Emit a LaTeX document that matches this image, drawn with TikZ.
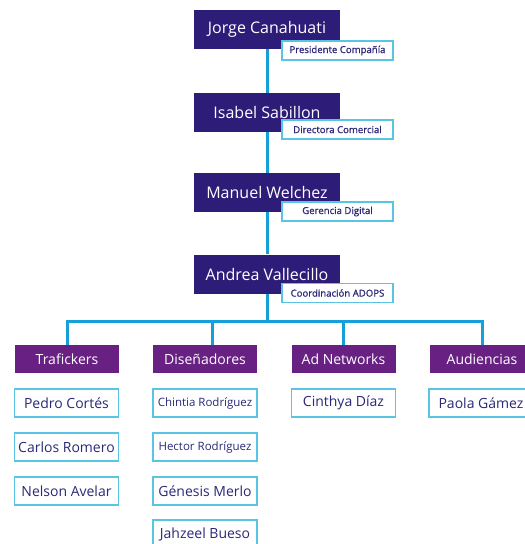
\documentclass[tikz,border=0pt]{standalone}
\usepackage{fontspec}
\setmainfont{Open Sans}
\newfontfamily\rolefont[FakeBold=0.8]{Open Sans}
\definecolor{headblue}{RGB}{46,29,120}
\definecolor{teampurple}{RGB}{104,33,130}
\definecolor{linkblue}{RGB}{22,160,218}
\definecolor{boxcyan}{RGB}{90,196,228}
\definecolor{navytext}{RGB}{43,40,120}
\tikzset{
  head/.style={fill=headblue,text=white,minimum width=146pt,minimum height=39pt,inner sep=0pt,font=\fontsize{16}{19}\selectfont},
  role/.style={draw=boxcyan,line width=1.2pt,fill=white,text=navytext,minimum width=111pt,minimum height=19pt,inner sep=0pt,font=\rolefont\fontsize{9.6}{11}\selectfont},
  team/.style={fill=teampurple,text=white,minimum width=104pt,minimum height=28pt,inner sep=0pt,font=\fontsize{14}{17}\selectfont},
  member/.style={draw=boxcyan,line width=1.2pt,fill=white,text=navytext,minimum width=104pt,minimum height=28pt,inner sep=0pt,font=\fontsize{14}{17}\selectfont},
  smallname/.style={font=\fontsize{11.5}{14}\selectfont},
  link/.style={draw=linkblue,line width=3pt}
}
\begin{document}
\begin{tikzpicture}[x=1pt,y=-1pt]
  \useasboundingbox (0,0) rectangle (525,544);

  \node[head] (jorge) at (267,29.5) {Jorge Canahuati};
  \node[head] (isabel) at (267,112.5) {Isabel Sabillon};
  \node[head] (manuel) at (267,192.5) {Manuel Welchez};
  \node[head] (andrea) at (267,274) {Andrea Vallecillo};

  \draw[link] (jorge.south) -- (isabel.north);
  \draw[link] (isabel.south) -- (manuel.north);
  \draw[link] (manuel.south) -- (andrea.north);

  \node[role] (presidente) at (337.5,50.5) {Presidente Compañía};
  \node[role] (directora) at (337.5,129.5) {Directora Comercial};
  \node[role] (gerencia) at (337.5,211.5) {Gerencia Digital};
  \node[role] (coordinacion) at (337.5,293) {Coordinación ADOPS};

  \node[team] (traf) at (67,359) {Trafickers};
  \node[team] (dis) at (205,359) {Diseñadores};
  \node[team] (adn) at (343.5,359) {Ad Networks};
  \node[team] (aud) at (482,359) {Audiencias};

  \coordinate (bus) at (267,321);
  \draw[link] (andrea.south) -- (bus);
  \draw[link] (bus) -| (traf.north);
  \draw[link] (bus) -| ([xshift=7pt]dis.north);
  \draw[link] (bus) -| (adn.north);
  \draw[link] (bus) -| (aud.north);

  \node[member] (pedro) at (66.5,403) {Pedro Cortés};
  \node[member] (carlos) at (66.5,447) {Carlos Romero};
  \node[member] (nelson) at (66.5,491) {Nelson Avelar};

  \node[member,smallname] (chintia) at (205,403) {Chintia Rodríguez};
  \node[member,smallname] (hector) at (205,447) {Hector Rodríguez};
  \node[member] (genesis) at (205,491) {Génesis Merlo};
  \node[member] (jahzeel) at (205,534) {Jahzeel Bueso};

  \node[member] (cinthya) at (343.5,403) {Cinthya Díaz};

  \node[member] (paola) at (481,403) {Paola Gámez};
\end{tikzpicture}
\end{document}
